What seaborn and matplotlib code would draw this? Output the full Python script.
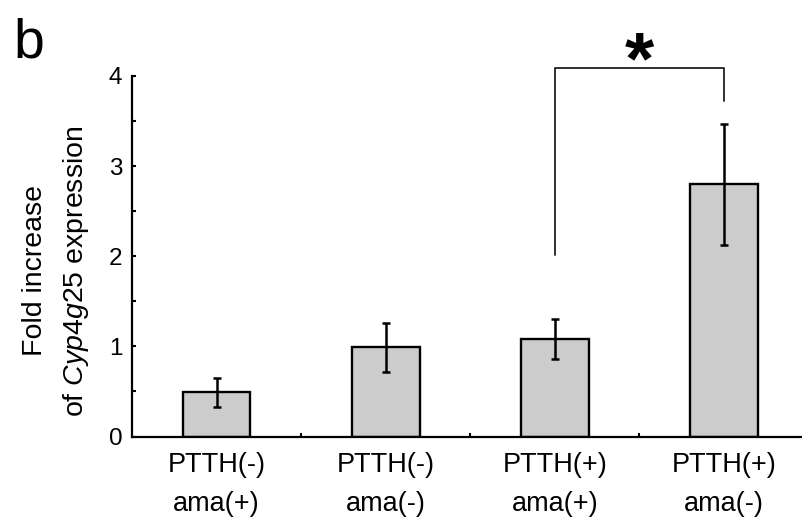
import matplotlib
matplotlib.use("Agg")
import matplotlib.pyplot as plt
import seaborn as sns
import pandas as pd
import numpy as np

categories = ["PTTH(-)\nama(+)", "PTTH(-)\nama(-)", "PTTH(+)\nama(+)", "PTTH(+)\nama(-)"]
values = [0.49, 0.99, 1.08, 2.80]
errors = [0.16, 0.27, 0.22, 0.67]
yticks = [0, 1, 2, 3, 4]
ylabel_lines = ["Fold increase", "of $\\mathit{Cyp4g25}$ expression"]

sns.set_theme(style="white")
plt.rcParams["font.family"] = ["Liberation Sans", "DejaVu Sans"]
plt.rcParams["mathtext.fontset"] = "custom"
plt.rcParams["mathtext.rm"] = "Liberation Sans"
plt.rcParams["mathtext.it"] = "Liberation Sans:italic"
for k in ["text.color", "axes.labelcolor", "xtick.color", "ytick.color", "axes.edgecolor"]:
    plt.rcParams[k] = "black"

df = pd.DataFrame({"group": categories, "value": values})

W, H = 802, 525
fig = plt.figure(figsize=(W / 100, H / 100), dpi=100)
ax = fig.add_axes([132 / W, 88.5 / H, (808.5 - 132) / W, (449 - 88.5) / H])

sns.barplot(data=df, x="group", y="value", ax=ax, color="#cccccc", width=0.4,
            edgecolor="black", linewidth=1.7, errorbar=None, saturation=1)
ax.errorbar(np.arange(len(values)), values, yerr=errors, fmt="none", ecolor="black",
            elinewidth=1.8, capsize=3, capthick=1.8, zorder=5)

ax.set_xlim(-0.5, 3.5)
ax.set_ylim(0, 4)
ax.set_yticks(yticks)
ax.set_yticks(np.arange(0.5, 4, 1), minor=True)
ax.set_xticks([0.5, 1.5, 2.5], minor=True)
ax.tick_params(axis="y", which="both", direction="in", length=3, width=1.5, labelsize=17.5, pad=7, left=True)
ax.tick_params(axis="x", which="major", length=0, labelsize=19.5, pad=11)
ax.tick_params(axis="x", which="minor", direction="in", length=3, width=1.5, bottom=True)
for lab in ax.get_xticklabels():
    lab.set_linespacing(1.65)

for s in ["top", "right"]:
    ax.spines[s].set_visible(False)
for s in ["left", "bottom"]:
    ax.spines[s].set_linewidth(1.6)
    ax.spines[s].set_color("black")

ax.set_xlabel("")
ax.set_ylabel("")

# y-axis label, two lines (baselines on the right after rotation)
for xb, txt in zip([41.5, 83], ylabel_lines):
    fig.text(xb / W, 1 - 271 / H, txt, rotation=90, rotation_mode="anchor",
             ha="center", va="baseline", fontsize=20.5)

# significance bracket between bar 3 and bar 4
x3, x4 = 2, 3
ax.plot([x3, x3, x4, x4], [2.01, 4.09, 4.09, 3.72], color="#231f20", lw=1.3, clip_on=False)
star_x = ax.transData.transform(((x3 + x4) / 2, 0))[0] / fig.bbox.width
fig.text(star_x, 1 - 83 / H, "*", ha="center", va="baseline", fontsize=54, fontweight="bold")

fig.text(13 / W, 1 - 57 / H, "b", fontsize=40, ha="left", va="baseline")

fig.savefig("out.png", dpi=100, facecolor="white")
